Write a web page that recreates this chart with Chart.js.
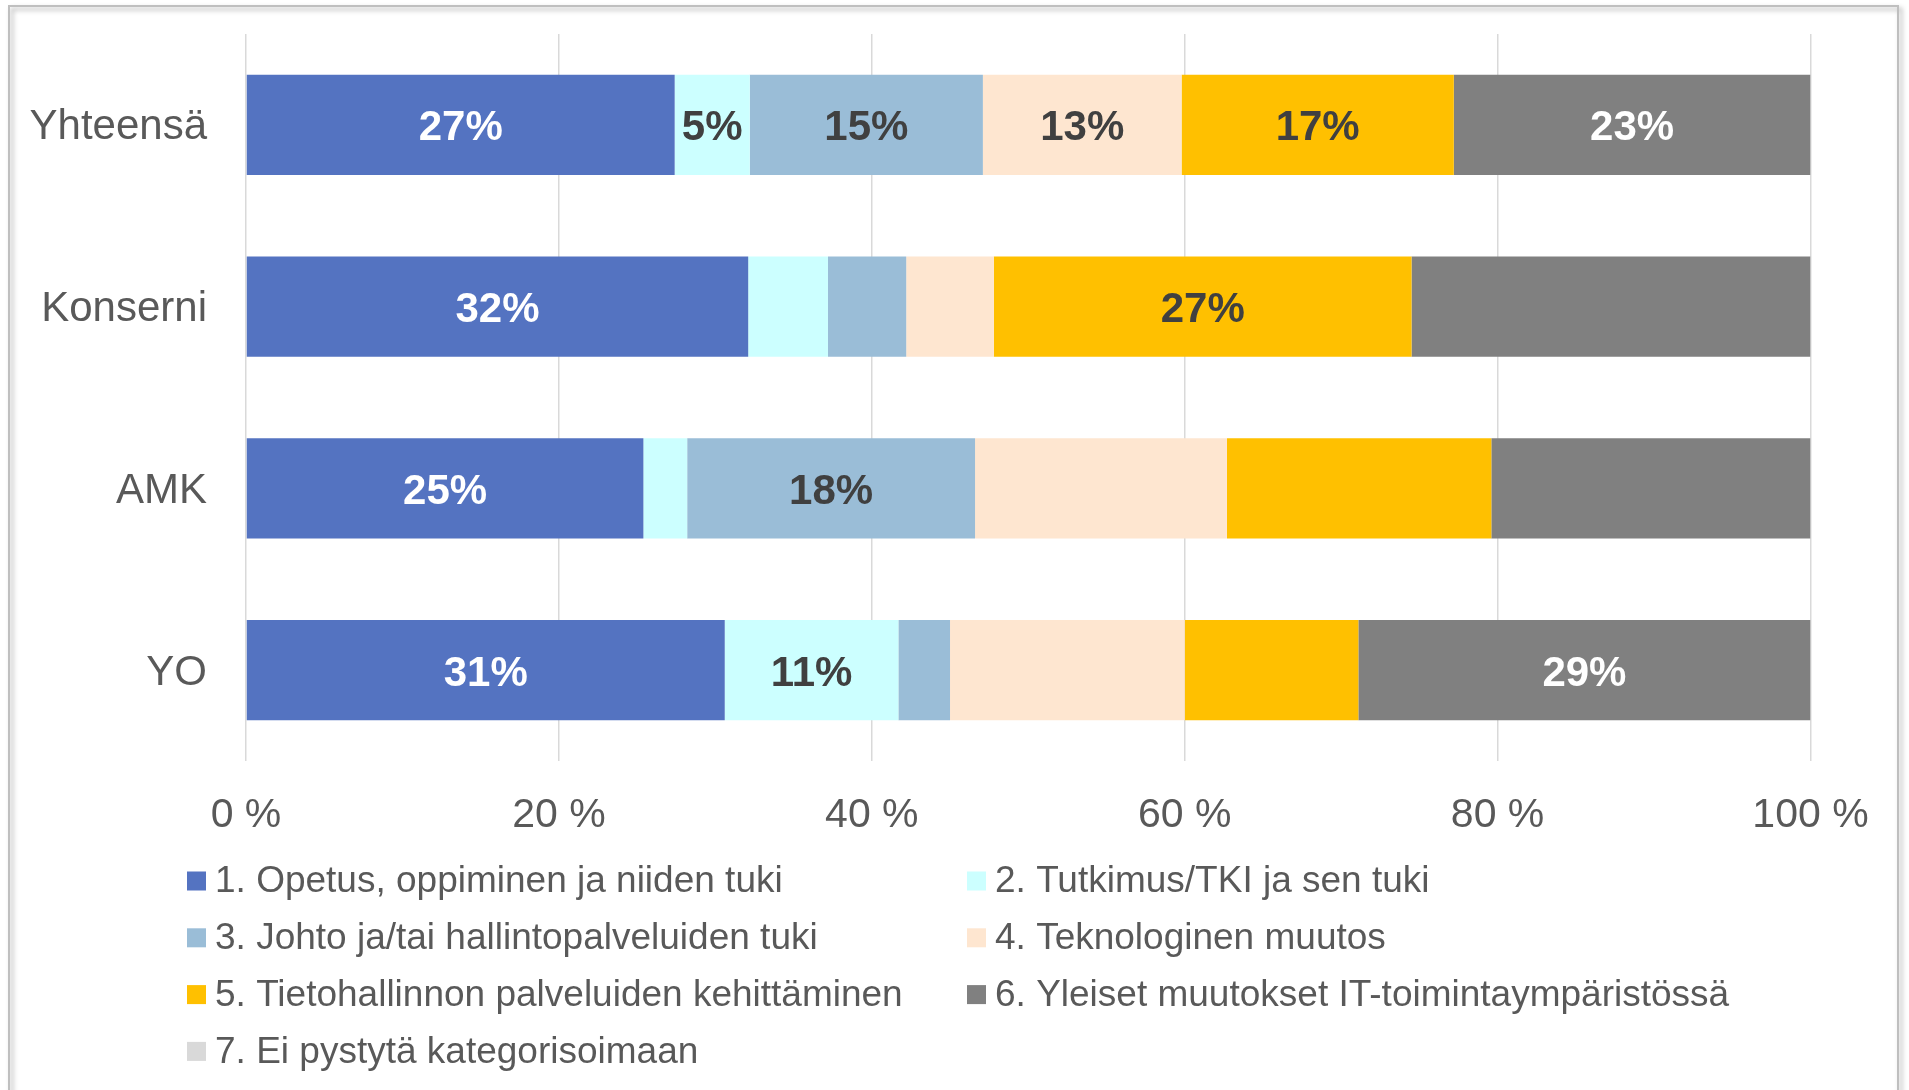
<!DOCTYPE html>
<html>
<head>
<meta charset="utf-8">
<script src="https://cdn.jsdelivr.net/npm/chart.js@4/dist/chart.umd.min.js"></script>
<style>
  html, body { margin: 0; padding: 0; background: #ffffff; }
  #wrap { position: relative; width: 1909px; height: 1090px; }
</style>
</head>
<body>
<div id="wrap"><canvas id="c"></canvas></div>
<script>
// ---- DATA ----
const categories = ['Yhteensä', 'Konserni', 'AMK', 'YO'];
const seriesNames = [
  '1. Opetus, oppiminen ja niiden tuki',
  '2. Tutkimus/TKI ja sen tuki',
  '3. Johto ja/tai hallintopalveluiden tuki',
  '4. Teknologinen muutos',
  '5. Tietohallinnon palveluiden kehittäminen',
  '6. Yleiset muutokset IT-toimintaympäristössä',
  '7. Ei pystytä kategorisoimaan'
];
const s1Opetus      = [27.4, 32.1, 25.4, 30.6];
const s2Tutkimus    = [4.8, 5.1, 2.8, 11.1];
const s3Johto       = [14.9, 5.0, 18.4, 3.3];
const s4Teknologia  = [12.7, 5.6, 16.1, 15.0];
const s5Tietohall   = [17.4, 26.7, 16.9, 11.1];
const s6Yleiset     = [22.8, 25.5, 20.4, 28.9];
const s7EiKateg     = [0, 0, 0, 0];
// which value labels appear in the original (per series, per category)
const labelShown = [
  [true, true, true, true],
  [true, false, false, true],
  [true, false, true, false],
  [true, false, false, false],
  [true, true, false, false],
  [true, false, false, true],
  [false, false, false, false]
];
const xTickValues = [0, 20, 40, 60, 80, 100];

// ---- STYLE ----
const FONT = "'Liberation Sans', Arial, Helvetica, sans-serif";
const TEXT = '#595959';
const colors = ['#5473C1', '#CCFFFF', '#9ABDD7', '#FEE6D0', '#FFC000', '#808080', '#D9D9D9'];
const labelColors = ['#FFFFFF', '#404040', '#404040', '#404040', '#404040', '#FFFFFF', '#404040'];
const seriesValues = [s1Opetus, s2Tutkimus, s3Johto, s4Teknologia, s5Tietohall, s6Yleiset, s7EiKateg];

const datasets = seriesValues.map((vals, i) => ({
  label: seriesNames[i],
  data: vals,
  backgroundColor: colors[i],
  borderWidth: 0,
  barPercentage: 0.551,
  categoryPercentage: 1.0
}));

const framePlugin = {
  id: 'frame',
  beforeDraw(chart) {
    const ctx = chart.ctx;
    ctx.save();
    ctx.fillStyle = '#ffffff';
    ctx.fillRect(0, 0, chart.width, chart.height);
    ctx.shadowColor = 'rgba(0,0,0,0.35)';
    ctx.shadowBlur = 5;
    ctx.shadowOffsetX = 3;
    ctx.shadowOffsetY = 3;
    ctx.strokeStyle = '#BFBFBF';
    ctx.lineWidth = 2;
    ctx.strokeRect(9, 6, 1889, 1200);
    ctx.restore();
  }
};

const valueLabelPlugin = {
  id: 'valueLabels',
  afterDatasetsDraw(chart) {
    const ctx = chart.ctx;
    ctx.save();
    ctx.font = 'bold 42px ' + FONT;
    ctx.textAlign = 'center';
    ctx.textBaseline = 'middle';
    chart.data.datasets.forEach((ds, di) => {
      const meta = chart.getDatasetMeta(di);
      meta.data.forEach((bar, i) => {
        if (!labelShown[di][i]) return;
        const v = ds.data[i];
        const cx = (bar.x + bar.base) / 2;
        ctx.fillStyle = labelColors[di];
        ctx.fillText(Math.round(v) + '%', cx, bar.y + 4);
      });
    });
    ctx.restore();
  }
};

const legendPlugin = {
  id: 'customLegend',
  afterDraw(chart) {
    const ctx = chart.ctx;
    ctx.save();
    ctx.font = '37px ' + FONT;
    ctx.textBaseline = 'middle';
    ctx.textAlign = 'left';
    const colX = [187, 967];
    const rowY0 = 881, rowStep = 56.8, box = 19;
    chart.data.datasets.forEach((ds, i) => {
      const col = i % 2, row = Math.floor(i / 2);
      const x = colX[col], y = rowY0 + row * rowStep;
      ctx.fillStyle = ds.backgroundColor;
      ctx.fillRect(x, y - box / 2, box, box);
      ctx.fillStyle = TEXT;
      ctx.fillText(ds.label, x + 28, y + 1);
    });
    ctx.restore();
  }
};

new Chart(document.getElementById('c'), {
  type: 'bar',
  data: { labels: categories, datasets },
  options: {
    indexAxis: 'y',
    responsive: true,
    maintainAspectRatio: false,
    animation: false,
    layout: { padding: { top: 34, bottom: 254, left: 0, right: 98.5 } },
    plugins: { legend: { display: false }, tooltip: { enabled: false } },
    scales: {
      x: {
        stacked: true,
        min: 0, max: 100,
        afterBuildTicks(scale) { scale.ticks = xTickValues.map(v => ({ value: v })); },
        afterFit(scale) { scale.height = 75; scale.paddingLeft = 0; scale.paddingRight = 0; },
        ticks: {
          callback: v => v + ' %',
          font: { family: FONT, size: 41 },
          color: TEXT,
          padding: 30,
          maxRotation: 0
        },
        grid: { color: '#D9D9D9', lineWidth: 1.5, drawTicks: false },
        border: { display: false }
      },
      y: {
        stacked: true,
        afterFit(scale) { scale.width = 246; scale.paddingTop = 0; scale.paddingBottom = 0; },
        ticks: {
          font: { family: FONT, size: 42 },
          color: TEXT,
          padding: 39,
          labelOffset: 3
        },
        grid: { display: false, drawTicks: false },
        border: { display: false }
      }
    }
  },
  plugins: [framePlugin, valueLabelPlugin, legendPlugin]
});
</script>
</body>
</html>
